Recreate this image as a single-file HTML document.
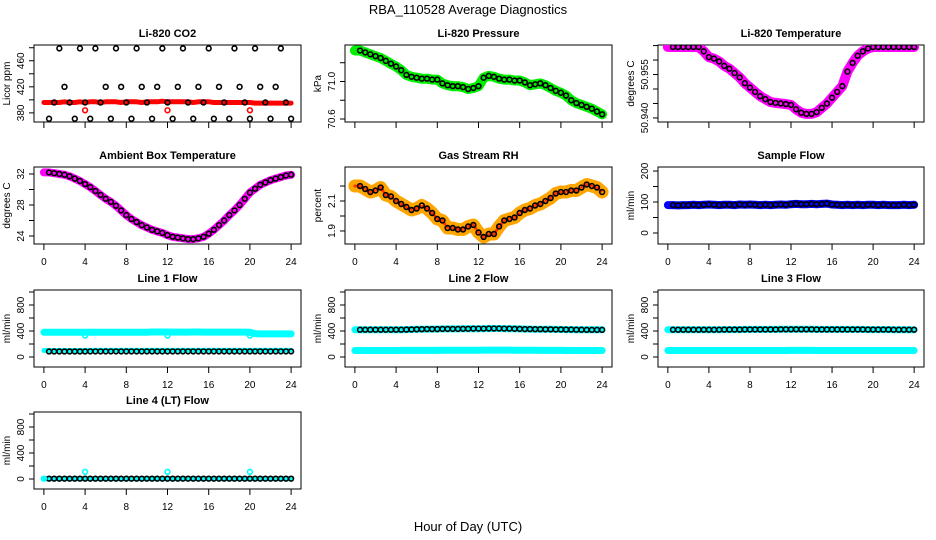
<!DOCTYPE html>
<html><head><meta charset="utf-8"><style>
html,body{margin:0;padding:0;background:#fff;}
svg{display:block;font-family:"Liberation Sans",Arial,sans-serif;}
</style></head><body>
<svg id="c" width="936" height="540" viewBox="0 0 936 540">
<text x="468" y="14" text-anchor="middle" font-size="13">RBA_110528  Average Diagnostics</text>
<text x="468" y="531" text-anchor="middle" font-size="13">Hour of Day (UTC)</text>
</svg>
<script>
const hours=[0.5,1,1.5,2,2.5,3,3.5,4,4.5,5,5.5,6,6.5,7,7.5,8,8.5,9,9.5,10,10.5,11,11.5,12,12.5,13,13.5,14,14.5,15,15.5,16,16.5,17,17.5,18,18.5,19,19.5,20,20.5,21,21.5,22,22.5,23,23.5,24];
const xTicks=[0,4,8,12,16,20,24];
const co2Black=[371,396,479,420,396,371,479,396,371,479,396,420,371,479,420,396,371,479,420,396,371,420,479,396,371,420,479,396,371,420,396,479,371,420,396,371,479,420,396,371,479,420,396,371,420,479,396,371];
const co2Band=[396,396,396,397,396,396,397,396,397,397,396,397,397,397,396,397,397,397,396,397,397,397,398,397,397,397,397,397,396,397,397,397,396,396,396,396,396,396,396,396,395,395,395,395,395,395,395,395];
const co2RedHours=[4,12,20];
const co2RedVals=[384,384,384];
const pressure=[71.33,71.31,71.29,71.27,71.25,71.22,71.19,71.16,71.12,71.07,71.05,71.04,71.03,71.03,71.02,71.02,70.98,70.96,70.95,70.95,70.94,70.92,70.93,70.95,71.04,71.06,71.05,71.03,71.02,71.02,71.01,71.01,70.99,70.96,70.97,70.98,70.96,70.93,70.90,70.88,70.85,70.80,70.77,70.75,70.73,70.71,70.68,70.65];
const liTemp=[50.9645,50.9645,50.9645,50.9645,50.9645,50.9645,50.9630,50.9610,50.9605,50.9595,50.9580,50.9570,50.9555,50.9540,50.9520,50.9505,50.9490,50.9475,50.9465,50.9455,50.9452,50.9450,50.9448,50.9445,50.9430,50.9418,50.9414,50.9414,50.9420,50.9435,50.9450,50.9470,50.9490,50.9510,50.9560,50.9590,50.9615,50.9630,50.9640,50.9645,50.9645,50.9645,50.9645,50.9645,50.9645,50.9645,50.9645,50.9645];
const ambient=[32.2,32.1,32.0,31.9,31.7,31.4,31.1,30.7,30.3,29.8,29.3,28.8,28.4,27.9,27.3,26.7,26.2,25.8,25.4,25.1,24.8,24.6,24.4,24.1,23.9,23.8,23.7,23.6,23.6,23.7,23.9,24.3,24.8,25.4,26.0,26.7,27.3,28.0,28.8,29.6,30.1,30.6,30.9,31.2,31.4,31.6,31.8,31.9];
const rh=[2.20,2.18,2.16,2.17,2.19,2.14,2.13,2.10,2.08,2.06,2.04,2.05,2.07,2.05,2.02,1.98,1.97,1.92,1.92,1.91,1.91,1.93,1.94,1.89,1.86,1.88,1.88,1.93,1.97,1.98,1.99,2.02,2.04,2.05,2.07,2.08,2.10,2.12,2.15,2.16,2.16,2.17,2.17,2.19,2.21,2.20,2.19,2.16];
const sampleFlow=[90,89,90,90,91,90,91,92,91,90,91,91,90,92,91,92,91,90,91,90,91,92,91,93,94,93,93,94,93,94,95,92,91,90,91,90,91,90,91,91,90,91,90,90,90,91,90,91];
const line1Black=[85,85,85,85,85,85,85,85,86,86,86,86,86,86,86,86,86,86,86,86,86,86,86,86,86,86,86,86,86,86,86,86,86,86,86,86,86,86,86,86,86,86,86,86,86,86,86,86];
const line1CyanHi=[380,380,380,380,380,380,380,380,380,380,380,380,380,380,380,382,382,382,382,382,385,385,385,385,383,383,383,383,385,385,383,383,383,383,383,383,383,383,383,380,360,355,355,355,355,355,355,355];
const line1CyanLo=[100,100,100,100,100,100,100,100,102,102,102,102,102,102,102,102,102,102,102,102,102,102,102,102,102,102,102,102,102,102,102,102,102,102,102,102,102,102,102,102,102,102,102,102,102,102,102,102];
const line1CyanPtHours=[4,12,20];
const line1CyanPtVals=[330,330,330];
const line2Black=[420,420,420,420,420,420,420,420,420,422,424,426,428,430,430,430,432,432,432,432,434,434,436,436,436,438,438,438,436,436,434,432,430,430,428,428,426,426,424,424,422,422,420,420,418,418,418,418];
const line2CyanLo=[100,100,100,100,100,100,100,100,102,102,102,102,102,102,102,102,104,104,104,104,104,104,104,104,106,106,106,106,106,106,104,104,104,104,104,102,102,102,102,102,100,100,100,100,100,100,100,100];
const line3Black=[420,420,420,420,420,420,420,420,420,420,422,422,422,422,424,424,424,424,424,424,424,426,426,426,426,426,426,426,424,424,424,424,424,424,424,424,424,424,422,422,422,422,422,420,420,420,420,420];
const line3CyanLo=[100,100,100,100,100,100,100,100,100,100,100,100,100,100,100,100,100,100,100,100,100,100,100,102,102,102,102,102,100,100,100,100,100,100,100,100,100,100,100,100,100,100,100,100,100,100,100,100];
const line4Black=[5,5,5,5,5,5,5,5,5,5,5,5,5,5,5,5,5,5,5,5,5,5,5,5,5,5,5,5,5,5,5,5,5,5,5,5,5,5,5,5,5,5,5,5,5,5,5,5];
const line4CyanPtHours=[0,4,12,20];
const line4CyanPtVals=[5,110,110,110];

const NS="http://www.w3.org/2000/svg";
const svg=document.getElementById('c');
function el(tag,attrs,parent){const e=document.createElementNS(NS,tag);for(const k in attrs)e.setAttribute(k,attrs[k]);(parent||svg).appendChild(e);return e;}
const colsL=[34,345,658],colsR=[301,612,924],rowsT=[45,167,290,412],H=77;
function makePanel(col,row,title,ylab,ylim,yticks,ylabels,showXLabels,name){
  const xl=colsL[col],xr=colsR[col],yt=rowsT[row],yb=yt+H;
  const g=el('g',{});
  
  
  const xs=h=>xl+(h+0.96)/25.92*(xr-xl);
  const ys=v=>yb-(v-ylim[0])/(ylim[1]-ylim[0])*H;
  const t=el('text',{x:(xl+xr)/2,y:yt-8,'text-anchor':'middle','font-size':'11','font-weight':'bold'},g);t.textContent=title;
  
  
  const b=el('rect',{x:xl,y:yt,width:xr-xl,height:H,fill:'none',stroke:'#000','stroke-width':1},g);
  
  
  xTicks.forEach(h=>{el('line',{x1:xs(h),x2:xs(h),y1:yb,y2:yb+6,stroke:'#000'},g);
    if(showXLabels){const l=el('text',{x:xs(h),y:yb+21,'text-anchor':'middle','font-size':'10'},g);l.textContent=h;
      
      }});
  yticks.forEach(v=>{el('line',{x1:xl,x2:xl-5,y1:ys(v),y2:ys(v),stroke:'#000'},g);});
  ylabels.forEach(s=>{const v=parseFloat(s);const l=el('text',{x:xl-10,y:ys(v),'text-anchor':'middle','font-size':'10',transform:`rotate(-90 ${xl-10} ${ys(v)})`},g);l.textContent=s;
    
    });
  const a=el('text',{x:xl-24,y:(yt+yb)/2,'text-anchor':'middle','font-size':'10',transform:`rotate(-90 ${xl-24} ${(yt+yb)/2})`},g);a.textContent=ylab;
  
  
  const cg=el('g',{'clip-path':`url(#clip${col}${row})`},g);
  const cp=el('clipPath',{id:`clip${col}${row}`},g);el('rect',{x:xl,y:yt,width:xr-xl,height:H},cp);
  return {g:cg,xs,ys};
}
function band(p,xsArr,vals,color,w,name,dash){
  const d=vals.map((v,i)=>'L'+p.xs(xsArr[i]).toFixed(1)+','+p.ys(v).toFixed(1)).join('');
  const attrs={d:'M'+p.xs(0).toFixed(1)+','+p.ys(vals[0]).toFixed(1)+d,fill:'none',stroke:color,'stroke-width':w,'stroke-linecap':'round','stroke-linejoin':'round'};
  if(dash)attrs['stroke-dasharray']=dash;
  const e=el('path',attrs,p.g);
  
  
}
function pts(p,xsArr,vals,color,name,r){
  vals.forEach((v,i)=>{const c=el('circle',{cx:p.xs(xsArr[i]),cy:p.ys(v),r:r||2.4,fill:'none',stroke:color,'stroke-width':1.6},p.g);
    
    });
}
let p;
p=makePanel(0,0,'Li-820 CO2','Licor ppm',[366,484.2],[380,400,420,440,460,480],['380','420','460'],false,'co2');
band(p,hours,co2Band,'#ff0000',5,'co2-band');pts(p,hours,co2Black,'#000','co2-point');pts(p,co2RedHours,co2RedVals,'#ff0000','co2-red-point');
p=makePanel(1,0,'Li-820 Pressure','kPa',[70.568,71.389],[70.6,70.8,71.0,71.2],['70.6','71.0'],false,'pressure');
band(p,hours,pressure,'#00ee00',10,'pressure-band');pts(p,hours,pressure,'#000','pressure-point');
p=makePanel(2,0,'Li-820 Temperature','degrees C',[50.9386,50.9652],[50.94,50.945,50.95,50.955,50.96,50.965],['50.940','50.955'],false,'li-temp');
band(p,hours,liTemp,'#ff00ff',10,'li-temp-band');pts(p,hours,liTemp,'#000','li-temp-point');
p=makePanel(0,1,'Ambient Box Temperature','degrees C',[22.97,32.9],[24,26,28,30,32],['24','28','32'],true,'ambient');
band(p,hours,ambient,'#ff00ff',8,'ambient-band');pts(p,hours,ambient,'#000','ambient-point');
p=makePanel(1,1,'Gas Stream RH','percent',[1.813,2.327],[1.9,2.0,2.1,2.2],['1.9','2.1'],true,'rh');
band(p,hours,rh,'#ffa500',13,'rh-band');band(p,hours,rh,'#ff3300',3,'rh-band-speckle','1 3');pts(p,hours,rh,'#000','rh-point');
p=makePanel(2,1,'Sample Flow','ml/min',[-35.5,213],[0,50,100,150,200],['0','100','200'],true,'sample-flow');
band(p,hours,sampleFlow,'#0000ff',8,'sample-flow-band');pts(p,hours,sampleFlow,'#000','sample-flow-point');
const fl=[-154,1031],ft=[0,200,400,600,800,1000],fls=['0','400','800'];
p=makePanel(0,2,'Line 1 Flow','ml/min',fl,ft,fls,true,'line1');
band(p,hours,line1CyanHi,'#00ffff',7,'line1-cyan-high');band(p,hours,line1CyanLo,'#00ffff',5,'line1-cyan-low');pts(p,hours,line1Black,'#000','line1-point');pts(p,line1CyanPtHours,line1CyanPtVals,'#00ffff','line1-cyan-point');
p=makePanel(1,2,'Line 2 Flow','ml/min',fl,ft,fls,true,'line2');
band(p,hours,line2Black,'#00ffff',7,'line2-cyan-high');band(p,hours,line2CyanLo,'#00ffff',7,'line2-cyan-low');pts(p,hours,line2Black,'#000','line2-point');
p=makePanel(2,2,'Line 3 Flow','ml/min',fl,ft,fls,true,'line3');
band(p,hours,line3Black,'#00ffff',7,'line3-cyan-high');band(p,hours,line3CyanLo,'#00ffff',7,'line3-cyan-low');pts(p,hours,line3Black,'#000','line3-point');
p=makePanel(0,3,'Line 4 (LT) Flow','ml/min',fl,ft,fls,true,'line4');
band(p,hours,line4Black,'#00ffff',5,'line4-cyan-band');pts(p,hours,line4Black,'#000','line4-point');pts(p,line4CyanPtHours,line4CyanPtVals,'#00ffff','line4-cyan-point');
</script>
</body></html>
